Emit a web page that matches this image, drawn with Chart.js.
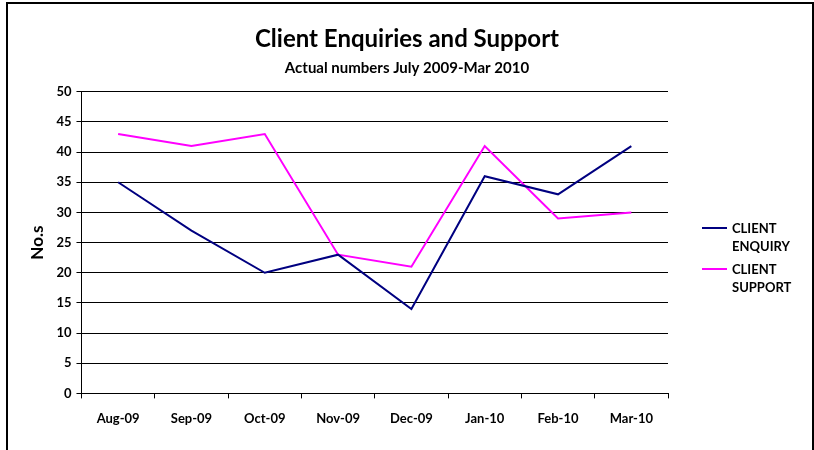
<!DOCTYPE html>
<html>
<head>
<meta charset="utf-8">
<script src="https://cdn.jsdelivr.net/npm/chart.js@4.4.0/dist/chart.umd.min.js"></script>
<style>
  html,body{margin:0;padding:0;background:#fff;overflow:hidden;}
  #frame{position:absolute;left:6px;top:2px;width:804px;height:470px;border:2px solid #000;border-bottom:none;}
  #wrap{position:absolute;left:0;top:0;width:814px;height:450px;}
</style>
</head>
<body>
<div id="frame"></div>
<div id="wrap"><canvas id="c" width="814" height="450"></canvas></div>
<script>
// dados
const meses = ['Aug-09','Sep-09','Oct-09','Nov-09','Dec-09','Jan-10','Feb-10','Mar-10'];
const enquiry = [35,27,20,23,14,36,33,41];
const support = [43,41,43,23,21,41,29,30];
const legendLabels = [['CLIENT','ENQUIRY'],['CLIENT','SUPPORT']];

const FONT = 'Lato, "Open Sans", sans-serif';

// legenda à direita (multi-linha)
const legendaDireita = {
  id:'legendaDireita',
  afterDraw(chart){
    const ctx = chart.ctx;
    const x0 = 702, x1 = 727, tx = 732;
    const tops = [228, 269];
    ctx.save();
    ctx.font = 'bold 13px ' + FONT;
    ctx.textBaseline = 'middle';
    ctx.fillStyle = '#000';
    chart.data.datasets.forEach((ds,i)=>{
      const y = tops[i];
      ctx.strokeStyle = ds.borderColor;
      ctx.lineWidth = 2;
      ctx.beginPath(); ctx.moveTo(x0,y); ctx.lineTo(x1,y); ctx.stroke();
      legendLabels[i].forEach((t,k)=> ctx.fillText(t, tx, y + 1 + k*18));
    });
    ctx.restore();
  }
};

new Chart(document.getElementById('c'),{
  type:'line',
  data:{
    labels: meses,
    datasets:[
      {label:'CLIENT ENQUIRY', data:enquiry, borderColor:'#000080', borderWidth:2, pointRadius:0, tension:0},
      {label:'CLIENT SUPPORT', data:support, borderColor:'#FF00FF', borderWidth:2, pointRadius:0, tension:0}
    ]
  },
  options:{
    responsive:false,
    animation:false,
    layout:{padding:{left:0, right:0, top:0, bottom:10}},
    plugins:{
      legend:{display:false},
      tooltip:{enabled:false},
      title:{display:true, text:'Client Enquiries and Support', color:'#000',
        font:{family:FONT, size:24, weight:'bold'}, padding:{top:25, bottom:5}},
      subtitle:{display:true, text:'Actual numbers July 2009-Mar 2010', color:'#000',
        font:{family:FONT, size:15, weight:'bold'}, padding:{top:0, bottom:15}}
    },
    scales:{
      x:{
        offset:true,
        grid:{display:true, drawOnChartArea:false, color:'#000', tickLength:5, offset:true},
        border:{color:'#000', width:1},
        ticks:{color:'#000', font:{family:FONT, size:13, weight:'bold'}, padding:13, maxRotation:0}
      },
      y:{
        min:0, max:50,
        ticks:{stepSize:5, color:'#000', font:{family:FONT, size:13, weight:'bold'}, padding:5},
        grid:{color:'#000', lineWidth:1, tickLength:5},
        border:{color:'#000', width:1},
        title:{display:true, text:'No.s', color:'#000', font:{family:FONT, size:17, weight:'bold'}, padding:{top:27, bottom:4}}
      },
      // eixo vazio só para reservar espaço da legenda
      y2:{
        position:'right', display:true,
        grid:{display:false}, border:{display:false},
        ticks:{display:false},
        afterFit(scale){ scale.width = 146; }
      }
    }
  },
  plugins:[legendaDireita]
});
</script>
</body>
</html>
